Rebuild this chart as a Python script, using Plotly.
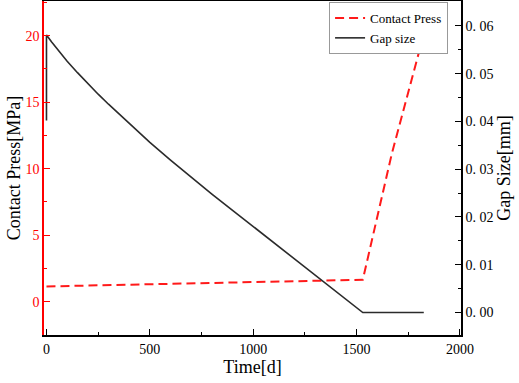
import plotly.graph_objects as go

# Gap size (right axis, mm)
gap_time = [0, 0, 25, 50, 75, 100, 150, 200, 250, 300, 400, 500, 600, 700, 800,
            900, 1000, 1100, 1200, 1300, 1400, 1500, 1530, 1825]
gap_size = [0.0402, 0.0581, 0.0566, 0.0552, 0.0539, 0.0526, 0.0502, 0.0479,
            0.0457, 0.0436, 0.0395, 0.0356, 0.0319, 0.0283, 0.0248, 0.0214,
            0.0180, 0.0146, 0.0112, 0.0078, 0.0044, 0.0010, 0.0, 0.0]

# Contact pressure (left axis, MPa)
press_time = [0, 1530, 1670, 1830]
press_val = [1.15, 1.65, 11.1, 20.4]

left_ticks = [0, 5, 10, 15, 20]
right_ticks = [0.0, 0.01, 0.02, 0.03, 0.04, 0.05, 0.06]
right_ticktext = ["0. 00", "0. 01", "0. 02", "0. 03", "0. 04", "0. 05", "0. 06"]
x_ticks = [0, 500, 1000, 1500, 2000]

FONT = "Liberation Serif"

fig = go.Figure()
fig.add_trace(go.Scatter(x=press_time, y=press_val, mode="lines", name="Contact Press",
                         line=dict(color="#ff1a1a", width=2, dash="9px,5px"), yaxis="y"))
fig.add_trace(go.Scatter(x=gap_time, y=gap_size, mode="lines", name="Gap size",
                         line=dict(color="#2b2b2b", width=1.6), yaxis="y2"))

fig.update_layout(
    width=519, height=383,
    margin=dict(l=44, r=58, t=1, b=48, autoexpand=False),
    paper_bgcolor="white", plot_bgcolor="white",
    font=dict(family=FONT, size=14, color="black"),
    showlegend=True,
    legend=dict(x=0.969, y=0.997, xanchor="right", yanchor="top",
                bgcolor="white", bordercolor="#999999", borderwidth=1,
                font=dict(family=FONT, size=13), tracegroupgap=0,
                itemwidth=30),
    xaxis=dict(range=[-12, 2005], tickvals=x_ticks, showgrid=False, zeroline=False,
               automargin=False,
               showline=True, linecolor="black", linewidth=1.5, mirror=True,
               ticks="inside", ticklen=6, tickcolor="black",
               minor=dict(ticks="inside", ticklen=3, dtick=250, tickcolor="black"),
               title=dict(text="Time[d]", font=dict(size=18), standoff=5),
               tickfont=dict(size=14, color="black")),
    yaxis=dict(range=[-2.5, 22.6], tickvals=left_ticks, showgrid=False, zeroline=False,
               automargin=False,
               showline=True, linecolor="red", linewidth=1.5,
               ticks="inside", ticklen=6, tickcolor="red",
               minor=dict(ticks="inside", ticklen=3, dtick=2.5, tickcolor="red"),
               tickfont=dict(size=14, color="red"),
               title=dict(text="Contact Press[MPa]", font=dict(size=18, color="black"), standoff=0)),
    yaxis2=dict(range=[-0.0047, 0.0652], overlaying="y", side="right",
                automargin=False,
                tickvals=right_ticks, ticktext=right_ticktext,
                showgrid=False, zeroline=False,
                showline=True, linecolor="black", linewidth=1.5,
                ticks="inside", ticklen=6, tickcolor="black",
                minor=dict(ticks="inside", ticklen=3, dtick=0.005, tickcolor="black"),
                tickfont=dict(size=14, color="black"),
                title=dict(text="Gap Size[mm]", font=dict(size=18, color="black"), standoff=0)),
)

fig.write_html("out.html", config={"displayModeBar": False},
               post_script="document.body.style.margin='0';")
